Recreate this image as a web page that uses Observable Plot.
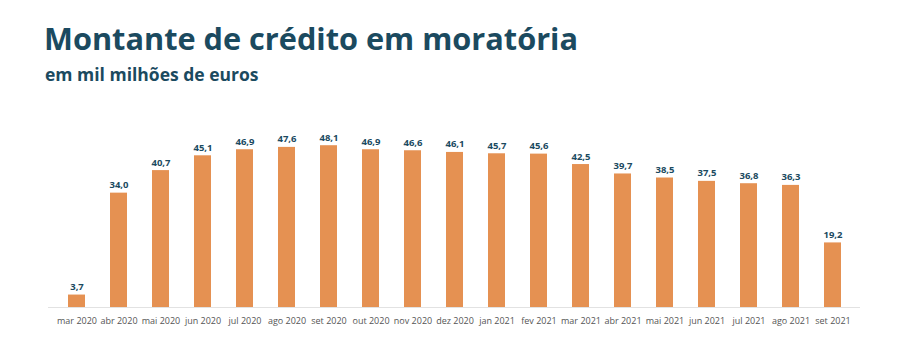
<!DOCTYPE html>
<html>
<head>
<meta charset="utf-8">
<script src="https://cdn.jsdelivr.net/npm/d3@7"></script>
<script src="https://cdn.jsdelivr.net/npm/@observablehq/plot@0.6"></script>
<style>
  html, body { margin: 0; padding: 0; background: #ffffff; }
  body { width: 900px; height: 351px; position: relative; overflow: hidden; font-family: "Open Sans", sans-serif; }
  #title { position: absolute; left: 44px; top: 20px; font-size: 30.7px; font-weight: 700; color: #1b4a5f; white-space: nowrap; line-height: 1.2; }
  #subtitle { position: absolute; left: 45px; top: 64px; font-size: 17.5px; font-weight: 700; color: #1b4a5f; white-space: nowrap; line-height: 1.2; }
  #chart { position: absolute; left: 0; top: 100px; }
</style>
</head>
<body>
<div id="title">Montante de crédito em moratória</div>
<div id="subtitle">em mil milhões de euros</div>
<div id="chart"></div>
<script>
const months = ["mar 2020","abr 2020","mai 2020","jun 2020","jul 2020","ago 2020","set 2020","out 2020","nov 2020","dez 2020","jan 2021","fev 2021","mar 2021","abr 2021","mai 2021","jun 2021","jul 2021","ago 2021","set 2021"];
const values = [3.7,34.0,40.7,45.1,46.9,47.6,48.1,46.9,46.6,46.1,45.7,45.6,42.5,39.7,38.5,37.5,36.8,36.3,19.2];

const data = months.map((m, i) => ({month: m, value: values[i]}));
const fmt = v => v.toFixed(1).replace(".", ",");

const chart = Plot.plot({
  width: 900,
  height: 251,
  marginLeft: 48,
  marginRight: 40,
  marginTop: 22,
  marginBottom: 44,
  style: {fontFamily: "Open Sans, sans-serif", background: "transparent"},
  x: {domain: months, paddingInner: 0.6, paddingOuter: 0.3, label: null, tickSize: 0, tickPadding: 9},
  y: {domain: [0, 55], axis: null},
  marks: [
    Plot.ruleY([0], {stroke: "#e2e2e2", strokeWidth: 1}),
    Plot.barY(data, {x: "month", y: "value", fill: "#e59152"}),
    Plot.text(data, {x: "month", y: "value", text: d => fmt(d.value), dy: -8, fontWeight: 700, fontSize: 9.5, fill: "#1b4a5f"}),
    Plot.axisX({tickSize: 0, tickPadding: 10, fontSize: 9, color: "#555", label: null})
  ]
});
chart.querySelectorAll('[aria-label="x-axis tick label"] text').forEach(t => t.setAttribute("fill", "#555"));
document.getElementById("chart").appendChild(chart);
</script>
</body>
</html>
